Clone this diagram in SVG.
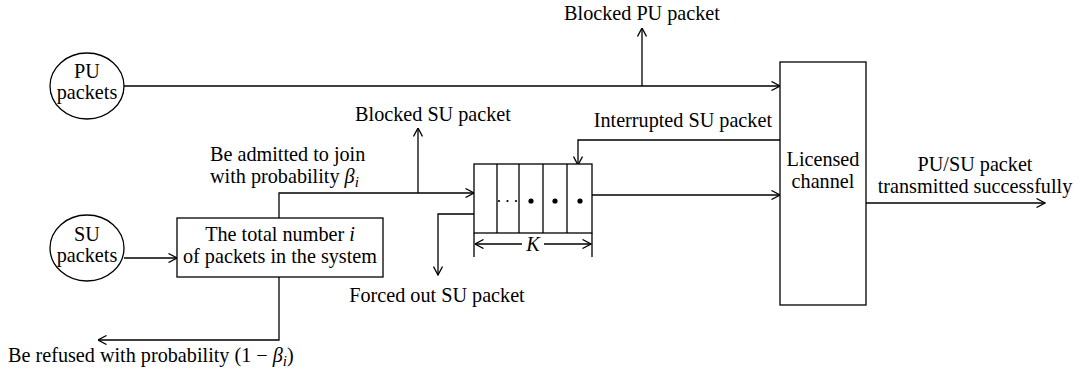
<svg xmlns="http://www.w3.org/2000/svg" width="1083" height="377" viewBox="0 0 1083 377">
<defs>
<marker id="ah" viewBox="0 0 10 10" refX="9.5" refY="5" markerWidth="10" markerHeight="10" markerUnits="userSpaceOnUse" orient="auto-start-reverse">
<path d="M1,0.5 L9.5,5 L1,9.5" fill="none" stroke="#000" stroke-width="1.3"/>
</marker>
<style>
text{font-family:"Liberation Serif","Times New Roman",serif;font-size:20.2px;fill:#000}
.c{text-anchor:middle}
.e{text-anchor:end}
.it{font-style:italic}
.ln{fill:none;stroke:#000;stroke-width:1.3}
.ar{fill:none;stroke:#000;stroke-width:1.3;marker-end:url(#ah)}
.shape{fill:#fff;stroke:#000;stroke-width:1.3}
</style>
</defs>
<rect width="1083" height="377" fill="#fff"/>
<g id="connectors">
<path class="ar" d="M124,86 H780"/>
<path class="ar" d="M642,86 V28"/>
<path class="ar" d="M780,140 H578 V165"/>
<path class="ar" d="M124,258 H177"/>
<path class="ar" d="M279,218 V193 H474"/>
<path class="ar" d="M418,193 V128"/>
<path class="ar" d="M474,214 H438 V275"/>
<path class="ar" d="M279,277 V340 H98"/>
<path class="ar" d="M592,195 H780"/>
<path class="ar" d="M866,203 H1045"/>
</g>
<g id="pu_packets">
<ellipse class="shape" cx="87" cy="86" rx="37" ry="33"/>
<text class="c" x="87" y="78">PU</text>
<text class="c" x="87" y="99">packets</text>
</g>
<g id="su_packets">
<ellipse class="shape" cx="87" cy="248" rx="37" ry="33"/>
<text class="c" x="87" y="241">SU</text>
<text class="c" x="87" y="262">packets</text>
</g>
<g id="total_number">
<rect class="shape" x="177" y="218" width="206" height="59"/>
<text class="c" x="280" y="241">The total number <tspan class="it">i</tspan></text>
<text class="c" x="280" y="263">of packets in the system</text>
</g>
<g id="queue">
<rect class="shape" x="474" y="164" width="118" height="69"/>
<path class="ln" d="M497,164 V233 M519,164 V233 M543,164 V233 M567,164 V233"/>
<circle cx="499" cy="201" r="1.1"/>
<circle cx="507.5" cy="201" r="1.1"/>
<circle cx="516" cy="201" r="1.1"/>
<circle cx="531" cy="201" r="2.6"/>
<circle cx="555" cy="201" r="2.6"/>
<circle cx="580" cy="201" r="2.6"/>
<path class="ln" d="M474,233 V257 M592,233 V257"/>
<path class="ar" d="M522,244 H475"/>
<path class="ar" d="M544,244 H591"/>
<text class="c it" x="533" y="251">K</text>
</g>
<g id="licensed_channel">
<rect class="shape" x="780" y="62" width="86" height="243"/>
<text class="c" x="823" y="166">Licensed</text>
<text class="c" x="823" y="188">channel</text>
</g>
<g id="labels">
<text class="c" x="642" y="20">Blocked PU packet</text>
<text class="e" x="772" y="127">Interrupted SU packet</text>
<text class="c" x="433" y="121">Blocked SU packet</text>
<text x="210" y="161">Be admitted to join</text>
<text x="210" y="183">with probability <tspan class="it">β</tspan><tspan class="it" font-size="15" dy="4">i</tspan></text>
<text class="c" x="437" y="302">Forced out SU packet</text>
<text x="8" y="362">Be refused with probability (1 − <tspan class="it">β</tspan><tspan class="it" font-size="15" dy="4">i</tspan><tspan dy="-4">)</tspan></text>
<text class="c" x="975" y="171">PU/SU packet</text>
<text class="c" x="975" y="193">transmitted successfully</text>
</g>
</svg>
